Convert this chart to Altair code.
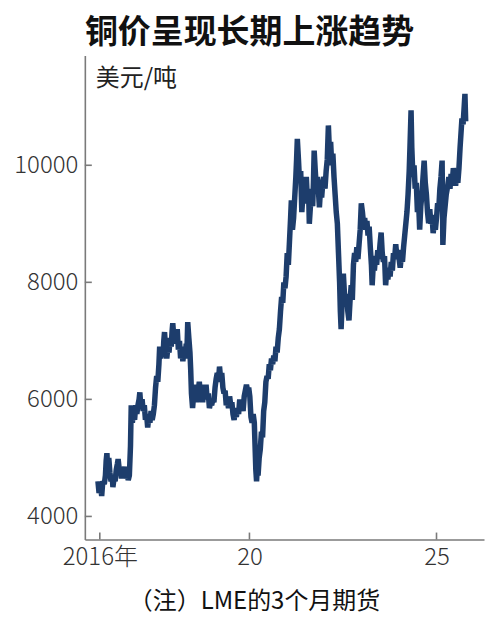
import altair as alt
import pandas as pd

# ---- data (LME 3-month copper, USD/t) ----
years = [
    2015.95, 2015.98, 2016.02, 2016.05, 2016.08, 2016.12, 2016.15, 2016.17, 2016.19, 2016.21,
    2016.24, 2016.27, 2016.30, 2016.33, 2016.35, 2016.38, 2016.41, 2016.44, 2016.47, 2016.49,
    2016.52, 2016.55, 2016.58, 2016.61, 2016.64, 2016.67, 2016.70, 2016.73, 2016.76, 2016.79,
    2016.82, 2016.84, 2016.87, 2016.90, 2016.93, 2016.96, 2016.99, 2017.02, 2017.05, 2017.07,
    2017.10, 2017.13, 2017.16, 2017.19, 2017.22, 2017.25, 2017.28, 2017.31, 2017.34, 2017.37,
    2017.40, 2017.43, 2017.46, 2017.49, 2017.52, 2017.55, 2017.58, 2017.60, 2017.63, 2017.66,
    2017.69, 2017.71, 2017.73, 2017.76, 2017.79, 2017.82, 2017.85, 2017.88, 2017.91, 2017.93,
    2017.95, 2017.98, 2018.01, 2018.04, 2018.07, 2018.10, 2018.13, 2018.16, 2018.19, 2018.22,
    2018.25, 2018.28, 2018.31, 2018.33, 2018.35, 2018.38, 2018.41, 2018.43, 2018.45, 2018.48,
    2018.51, 2018.54, 2018.57, 2018.60, 2018.63, 2018.66, 2018.69, 2018.72, 2018.75, 2018.78,
    2018.81, 2018.84, 2018.87, 2018.90, 2018.93, 2018.96, 2018.99, 2019.02, 2019.05, 2019.08,
    2019.11, 2019.14, 2019.17, 2019.20, 2019.23, 2019.26, 2019.29, 2019.32, 2019.35, 2019.38,
    2019.41, 2019.44, 2019.47, 2019.50, 2019.53, 2019.56, 2019.59, 2019.62, 2019.65, 2019.68,
    2019.71, 2019.74, 2019.77, 2019.80, 2019.83, 2019.86, 2019.89, 2019.92, 2019.95, 2019.98,
    2020.01, 2020.04, 2020.07, 2020.10, 2020.13, 2020.15, 2020.17, 2020.19, 2020.21, 2020.23,
    2020.26, 2020.29, 2020.32, 2020.35, 2020.38, 2020.41, 2020.44, 2020.47, 2020.50, 2020.53,
    2020.56, 2020.59, 2020.62, 2020.65, 2020.68, 2020.71, 2020.74, 2020.77, 2020.80, 2020.83,
    2020.86, 2020.89, 2020.92, 2020.95, 2020.98, 2021.01, 2021.04, 2021.07, 2021.10, 2021.12,
    2021.15, 2021.18, 2021.21, 2021.24, 2021.26, 2021.28, 2021.31, 2021.34, 2021.37, 2021.40,
    2021.43, 2021.46, 2021.49, 2021.52, 2021.55, 2021.58, 2021.60, 2021.63, 2021.66, 2021.69,
    2021.71, 2021.73, 2021.76, 2021.79, 2021.82, 2021.85, 2021.87, 2021.90, 2021.93, 2021.96,
    2021.99, 2022.02, 2022.05, 2022.08, 2022.11, 2022.14, 2022.17, 2022.20, 2022.23, 2022.26,
    2022.29, 2022.32, 2022.35, 2022.38, 2022.41, 2022.43, 2022.45, 2022.48, 2022.51, 2022.54,
    2022.57, 2022.60, 2022.63, 2022.66, 2022.69, 2022.72, 2022.75, 2022.78, 2022.81, 2022.84,
    2022.87, 2022.90, 2022.93, 2022.96, 2022.99, 2023.02, 2023.05, 2023.08, 2023.11, 2023.14,
    2023.17, 2023.20, 2023.23, 2023.26, 2023.28, 2023.31, 2023.34, 2023.37, 2023.40, 2023.43,
    2023.46, 2023.49, 2023.52, 2023.55, 2023.58, 2023.61, 2023.64, 2023.67, 2023.70, 2023.73,
    2023.76, 2023.79, 2023.82, 2023.85, 2023.88, 2023.91, 2023.94, 2023.97, 2024.00, 2024.03,
    2024.06, 2024.09, 2024.12, 2024.15, 2024.18, 2024.21, 2024.24, 2024.27, 2024.29, 2024.32,
    2024.34, 2024.37, 2024.40, 2024.43, 2024.46, 2024.49, 2024.52, 2024.55, 2024.58, 2024.61,
    2024.64, 2024.67, 2024.70, 2024.73, 2024.76, 2024.79, 2024.82, 2024.85, 2024.88, 2024.91,
    2024.94, 2024.97, 2025.00, 2025.03, 2025.06, 2025.09, 2025.12, 2025.15, 2025.17, 2025.20,
    2025.23, 2025.26, 2025.30, 2025.33, 2025.36, 2025.39, 2025.42, 2025.45, 2025.48, 2025.51,
    2025.54, 2025.57, 2025.60, 2025.63, 2025.66, 2025.68, 2025.71, 2025.74, 2025.76, 2025.78,
]
prices = [
    4600, 4400, 4550, 4350, 4600, 4550, 4700, 4950, 5080, 4800,
    5000, 4750, 4600, 4700, 4500, 4650, 4600, 4800, 4900, 4980,
    4800, 4850, 4650, 4800, 4700, 4850, 4650, 4750, 4620, 4700,
    5200, 5900, 5600, 5800, 5650, 5900, 5750, 5900, 6000, 6120,
    5850, 6000, 5800, 5900, 5650, 5750, 5520, 5700, 5600, 5800,
    5650, 5750, 5900, 6200, 6400, 6300, 6600, 6900, 6700, 6850,
    6750, 7000, 7150, 6850, 6700, 6900, 6800, 7050, 6900, 7150,
    7300, 7050, 7150, 6950, 7200, 6850, 7000, 6700, 6900, 6650,
    6850, 6700, 6950, 6850, 7320, 7050, 6800, 6500, 6100, 5850,
    6100, 6000, 6250, 5950, 6150, 6300, 6050, 6250, 5950, 6200,
    6000, 6250, 6000, 6100, 5850, 5950, 5900, 6000, 5950, 6200,
    6350, 6450, 6300, 6560, 6350, 6450, 6200, 6100, 6150, 5900,
    6000, 5850, 6050, 5900, 5950, 5750, 5650, 5800, 5700, 5850,
    5750, 6000, 5850, 5950, 5800, 6050, 6150, 6250, 6150, 6200,
    6050, 5700, 5600, 5750, 5600, 5200, 4800, 4600, 4850, 4700,
    5000, 5150, 5450, 5350, 5800, 5950, 6300, 6400, 6350, 6600,
    6500, 6700, 6600, 6750, 6650, 6900, 6800, 7050, 7200, 7500,
    7750, 7650, 8000, 7900, 8100, 8500, 8300, 8700, 9100, 9400,
    8900, 9100, 9450, 9800, 10100, 10450, 10100, 9700, 9900, 9200,
    9500, 9350, 9600, 9800, 9400, 9600, 9000, 9300, 9500, 9300,
    9700, 10250, 9900, 9600, 9800, 9500, 9280, 9600, 9450, 9700,
    9800, 9600, 9900, 10100, 10680, 10200, 10400, 10000, 10200, 9800,
    9500, 9200, 9000, 8500, 8000, 7500, 7200, 7700, 8150, 7800,
    7650, 7800, 7500, 7350, 7700, 7950, 7700, 8300, 8500, 8350,
    8600, 8400, 8650, 8900, 9350, 9200, 9000, 9100, 8900, 9050,
    8800, 8950, 8600, 8300, 7950, 8300, 8200, 8450, 8300, 8550,
    8400, 8650, 8850, 8500, 8350, 8450, 7950, 8200, 8050, 8250,
    8100, 8350, 8200, 8500, 8400, 8650, 8450, 8550, 8400, 8250,
    8450, 8350, 8600, 8800, 9000, 9200, 9500, 9900, 10300, 10940,
    10300, 9800, 10000, 9600, 9700, 9200, 9400, 8900, 9300, 9500,
    9800, 10080, 9700, 9500, 9200, 9010, 9250, 9000, 9150, 8840,
    9000, 8900, 9100, 9350, 9250, 9600, 9800, 10080, 8640, 9100,
    9300, 9500, 9650, 9800, 9600, 9850, 9700, 9950, 9800, 9650,
    9850, 9700, 9950, 10300, 10600, 10800, 10700, 11000, 11220, 10750,
]

y_ticks = [4000, 6000, 8000, 10000]
x_ticks = [2016, 2020, 2025]
x_tick_labels = ["2016年", "20", "25"]

title_text = "铜价呈现长期上涨趋势"
unit_text = "美元/吨"
note_text = "（注）LME的3个月期货"

LINE = "#1d3d6c"
AXIS = "#7a7a7a"
TXT = "#333333"
NUM_FONT = "Noto Sans CJK SC"
CJK = "Noto Sans CJK SC"

df = pd.DataFrame({"year": years, "price": prices})

xscale = alt.Scale(domain=[2015.6, 2026.27], nice=False, zero=False)
yscale = alt.Scale(domain=[3605, 11875], nice=False, zero=False)

label_expr = " : ".join(
    f"datum.value == {v} ? '{t}'" for v, t in zip(x_ticks, x_tick_labels)
) + " : ''"

line = alt.Chart(df).mark_line(
    color=LINE, strokeWidth=5.5, strokeJoin="miter", strokeMiterLimit=2
).encode(
    x=alt.X("year:Q", scale=xscale,
            axis=alt.Axis(values=x_ticks, labelExpr=label_expr, title=None,
                          ticks=False, grid=False, labelPadding=6,
                          labelFontSize=24, labelFont=NUM_FONT, labelFontWeight=300,
                          labelColor=TXT, domainColor=AXIS, domainWidth=1.6,
                          labelFlush=False)),
    y=alt.Y("price:Q", scale=yscale,
            axis=alt.Axis(values=y_ticks, title=None, ticks=False, grid=False,
                          labelPadding=7, labelFontSize=24, labelFont=NUM_FONT,
                          labelFontWeight=300, labelColor=TXT, domainColor=AXIS,
                          domainWidth=1.6, format="d")),
)

ytick_df = pd.DataFrame({"v": y_ticks})
ytick = alt.Chart(ytick_df).mark_rule(color=AXIS, strokeWidth=1.6).encode(
    y=alt.Y("v:Q", scale=yscale), x=alt.value(0), x2=alt.value(7)
)
xtick_df = pd.DataFrame({"v": x_ticks})
xtick = alt.Chart(xtick_df).mark_rule(color=AXIS, strokeWidth=1.6).encode(
    x=alt.X("v:Q", scale=xscale), y=alt.value(485), y2=alt.value(478)
)

title = alt.Chart(pd.DataFrame({"t": [title_text]})).mark_text(
    font=CJK, fontSize=33, fontWeight="bold", color="#111111", align="center", baseline="middle"
).encode(x=alt.value(165), y=alt.value(-23), text="t:N")

unit = alt.Chart(pd.DataFrame({"t": [unit_text]})).mark_text(
    font=CJK, fontSize=24, color="#222222", align="left", baseline="middle"
).encode(x=alt.value(11), y=alt.value(24), text="t:N")

note = alt.Chart(pd.DataFrame({"t": [note_text]})).mark_text(
    font=CJK, fontSize=24, color="#111111", align="center", baseline="middle"
).encode(x=alt.value(170), y=alt.value(548), text="t:N")

chart = alt.layer(line, ytick, xtick, title, unit, note).properties(
    width=400, height=485,
    autosize=alt.AutoSizeParams(type="none"),
    padding={"left": 77, "top": 47, "right": 8, "bottom": 90},
    background="white",
).configure_view(stroke=None)

chart.save("out.html", embed_options={"renderer": "svg", "actions": False})
